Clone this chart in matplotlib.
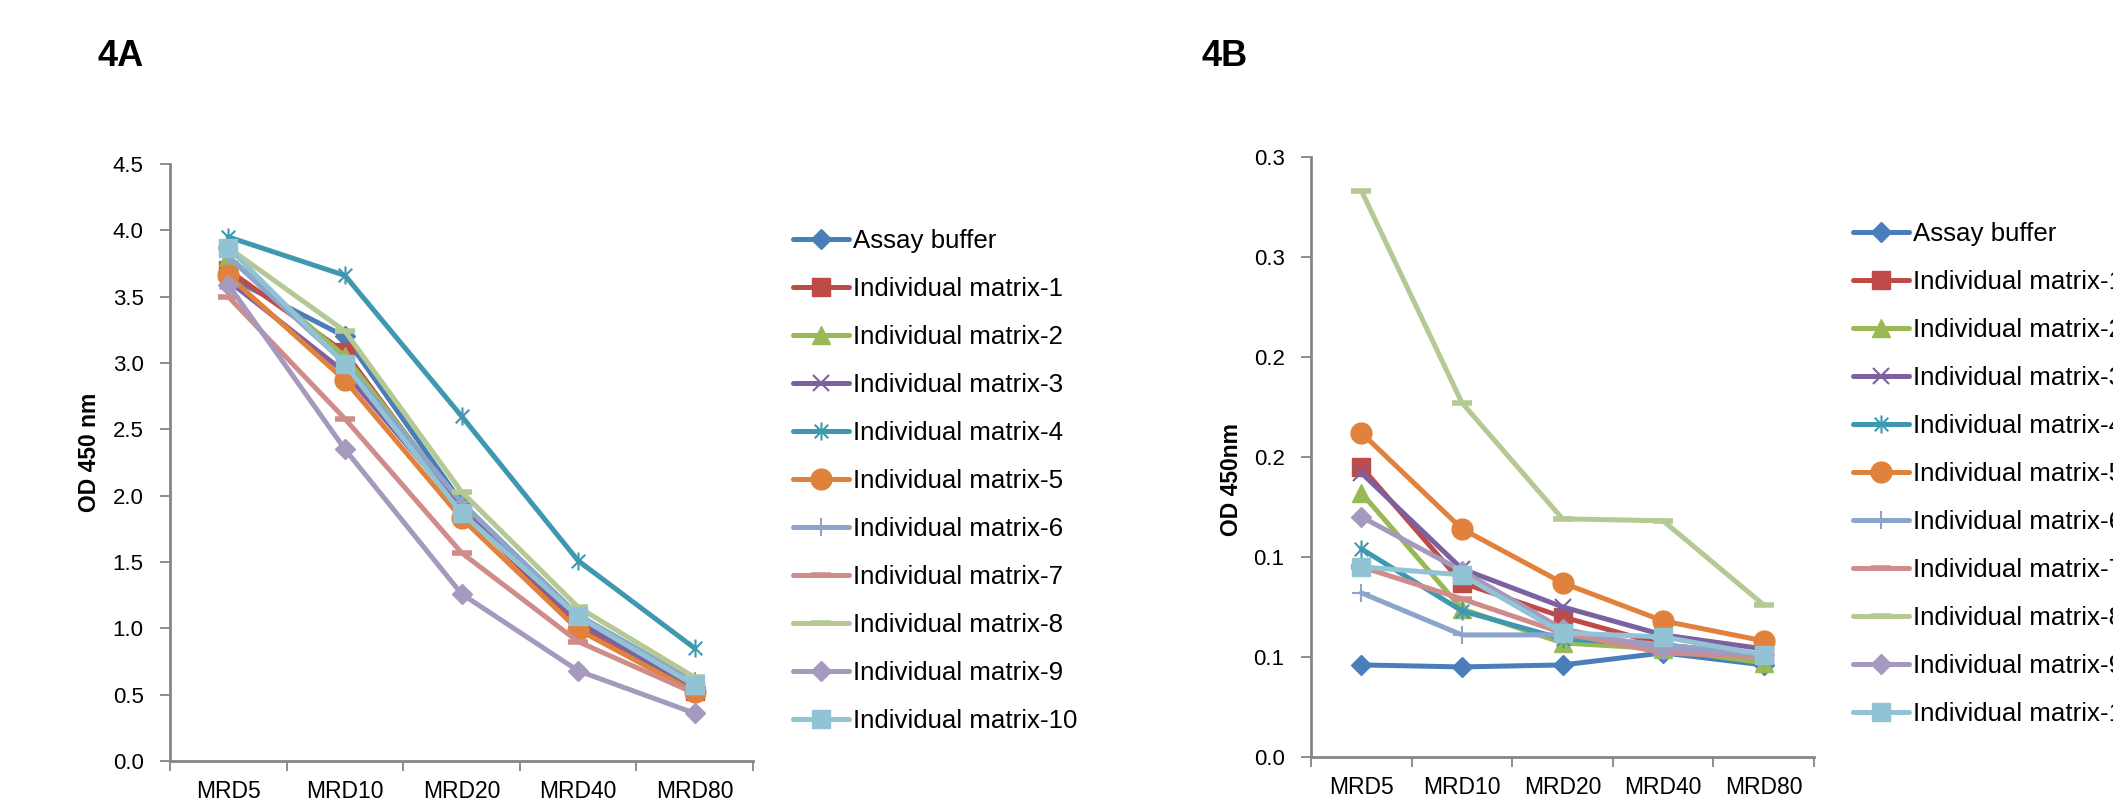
import matplotlib
matplotlib.use("Agg")
import matplotlib.pyplot as plt
from matplotlib.path import Path

plt.rcParams['font.family'] = ['Liberation Sans', 'DejaVu Sans']

# dilution steps on the x axis
dilutions = ['MRD5', 'MRD10', 'MRD20', 'MRD40', 'MRD80']

series_names = ['Assay buffer'] + ['Individual matrix-%d' % i for i in range(1, 11)]

# 4A: OD 450 nm per dilution
od_4a_assay = [3.65, 3.20, 1.95, 1.05, 0.56]
od_4a_m1 = [3.70, 3.08, 1.90, 1.02, 0.53]
od_4a_m2 = [3.80, 3.05, 1.93, 1.05, 0.55]
od_4a_m3 = [3.62, 2.93, 1.90, 1.05, 0.55]
od_4a_m4 = [3.95, 3.66, 2.60, 1.51, 0.85]
od_4a_m5 = [3.66, 2.87, 1.83, 0.99, 0.52]
od_4a_m6 = [3.80, 3.00, 1.95, 1.10, 0.60]
od_4a_m7 = [3.50, 2.58, 1.57, 0.90, 0.51]
od_4a_m8 = [3.87, 3.24, 2.03, 1.16, 0.63]
od_4a_m9 = [3.59, 2.35, 1.26, 0.68, 0.36]
od_4a_m10 = [3.87, 2.99, 1.87, 1.09, 0.57]

# 4B: OD 450 nm per dilution
od_4b_assay = [0.046, 0.045, 0.046, 0.052, 0.046]
od_4b_m1 = [0.145, 0.087, 0.070, 0.056, 0.051]
od_4b_m2 = [0.132, 0.074, 0.057, 0.054, 0.047]
od_4b_m3 = [0.142, 0.094, 0.075, 0.061, 0.054]
od_4b_m4 = [0.104, 0.073, 0.059, 0.056, 0.050]
od_4b_m5 = [0.162, 0.114, 0.087, 0.068, 0.058]
od_4b_m6 = [0.082, 0.061, 0.061, 0.056, 0.051]
od_4b_m7 = [0.095, 0.079, 0.062, 0.052, 0.050]
od_4b_m8 = [0.283, 0.177, 0.119, 0.118, 0.076]
od_4b_m9 = [0.120, 0.093, 0.064, 0.054, 0.051]
od_4b_m10 = [0.095, 0.091, 0.062, 0.060, 0.051]

yticks_4a = [0.0, 0.5, 1.0, 1.5, 2.0, 2.5, 3.0, 3.5, 4.0, 4.5]
yticks_4b = [0.0, 0.05, 0.10, 0.15, 0.20, 0.25, 0.30]
yticklabels_4b = ['0.0', '0.1', '0.1', '0.2', '0.2', '0.3', '0.3']

data_4a = [od_4a_assay, od_4a_m1, od_4a_m2, od_4a_m3, od_4a_m4, od_4a_m5,
           od_4a_m6, od_4a_m7, od_4a_m8, od_4a_m9, od_4a_m10]
data_4b = [od_4b_assay, od_4b_m1, od_4b_m2, od_4b_m3, od_4b_m4, od_4b_m5,
           od_4b_m6, od_4b_m7, od_4b_m8, od_4b_m9, od_4b_m10]

# Excel-like asterisk: vertical bar plus an X
asterisk = Path([(0, -1), (0, 1), (-0.75, -0.75), (0.75, 0.75), (-0.75, 0.75), (0.75, -0.75)],
                [Path.MOVETO, Path.LINETO, Path.MOVETO, Path.LINETO, Path.MOVETO, Path.LINETO])

# (color, marker, markersize, markeredgewidth)
styles = [
    ('#4A7EBB', 'D', 10, 1),
    ('#BE4B48', 's', 13, 1),
    ('#98B954', '^', 13, 1),
    ('#7D60A0', 'x', 11, 1.5),
    ('#3E98B0', asterisk, 13, 1.5),
    ('#E0823C', 'o', 15, 1),
    ('#8EA5CB', '+', 13, 1.5),
    ('#D08C8A', '_', 14, 4),
    ('#B4C994', '_', 15, 4),
    ('#A599BD', 'D', 10, 1),
    ('#92C3D5', 's', 13, 1),
]

W, H = 2113, 806
fig = plt.figure(figsize=(W / 100, H / 100), dpi=100)


def draw_panel(rect, data, yticks, yticklabels, ylabel, ylabel_xy, legend_xy):
    ax = fig.add_axes(rect)
    x = [i + 0.5 for i in range(len(dilutions))]
    for name, vals, (c, m, ms, mew) in zip(series_names, data, styles):
        ax.plot(x, vals, color=c, lw=3.6, marker=m, markersize=ms,
                markerfacecolor=c, markeredgecolor=c, markeredgewidth=mew,
                label=name, solid_capstyle='round', clip_on=False)
    ax.set_xlim(0, len(dilutions))
    ax.set_ylim(yticks[0], yticks[-1])
    ax.set_xticks(range(len(dilutions) + 1))
    ax.set_xticklabels([])
    ax.set_xticks(x, minor=True)
    ax.set_xticklabels(dilutions, minor=True, fontsize=16.5)
    ax.tick_params(axis='x', which='minor', length=0, pad=14)
    ax.tick_params(axis='x', which='major', length=7, width=1.3, color='#868686')
    ax.set_yticks(yticks)
    ax.set_yticklabels(yticklabels, fontsize=16)
    ax.tick_params(axis='y', length=7, width=1.3, color='#868686', pad=12)
    for s in ['top', 'right']:
        ax.spines[s].set_visible(False)
    for s in ['left', 'bottom']:
        ax.spines[s].set_color('#868686')
        ax.spines[s].set_linewidth(2)
    fig.text(ylabel_xy[0] / W, 1 - ylabel_xy[1] / H, ylabel, rotation=90,
             fontsize=16.5, fontweight='bold', ha='center', va='center')
    fig.legend(*ax.get_legend_handles_labels(), loc='upper left',
               bbox_to_anchor=(legend_xy[0] / W, 1 - legend_xy[1] / H),
               frameon=False, fontsize=18.6, borderpad=0, borderaxespad=0,
               handlelength=2.15, handletextpad=0.18, labelspacing=0.93)
    return ax


draw_panel([170 / W, 1 - 761 / H, 583 / W, 597 / H], data_4a, yticks_4a,
           ['%.1f' % v for v in yticks_4a], 'OD 450 nm', (90, 452), (793, 229))
draw_panel([1311 / W, 1 - 757 / H, 503 / W, 600.5 / H], data_4b, yticks_4b,
           yticklabels_4b, 'OD 450nm', (1232, 480), (1853, 222))

fig.text(97 / W, 1 - 57 / H, '4A', fontsize=26, fontweight='bold', ha='left', va='center')
fig.text(1202 / W, 1 - 57 / H, '4B', fontsize=26, fontweight='bold', ha='left', va='center')

fig.savefig('out.png', dpi=100)
